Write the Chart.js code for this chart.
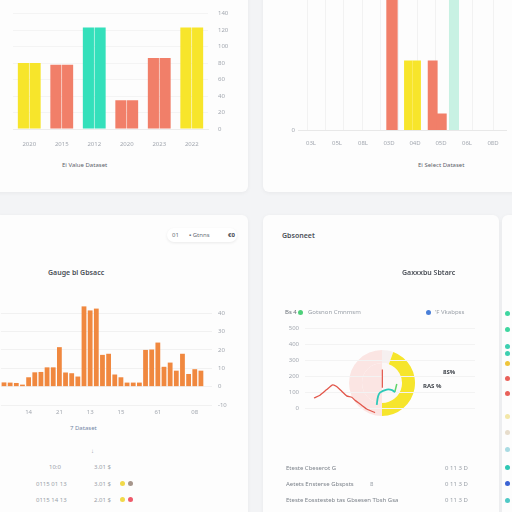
<!DOCTYPE html>
<html>
<head>
<meta charset="utf-8">
<script src="https://cdn.jsdelivr.net/npm/chart.js"></script>
<style>
  html, body { margin: 0; padding: 0; }
  body { width: 512px; height: 512px; background: #f3f4f6; position: relative; overflow: hidden; font-family: "Noto Sans", sans-serif; }
  .card { position: absolute; background: #fdfdfd; border-radius: 6px; box-shadow: 0 1px 4px rgba(0,0,0,0.05); }
  canvas { position: absolute; }
  .t { position: absolute; font-size: 6px; line-height: 8px; color: #9aa0a8; white-space: nowrap; }
  .b { color: #4a4f57; font-weight: 600; font-size: 7px; }
  .dot { position: absolute; width: 5px; height: 5px; border-radius: 50%; }
  .pill { position: absolute; left: 167px; top: 228px; width: 70px; height: 14px; border-radius: 7px; background: #fff; box-shadow: 0 1px 3px rgba(0,0,0,0.08); }
</style>
</head>
<body>
<div class="card" style="left:-6px;top:-10px;width:254px;height:202px"></div>
<div class="card" style="left:263px;top:-10px;width:260px;height:202px"></div>
<div class="card" style="left:-6px;top:215px;width:254px;height:310px"></div>
<div class="card" style="left:263px;top:215px;width:236px;height:310px"></div>
<div class="card" style="left:502px;top:215px;width:30px;height:310px"></div>

<canvas id="c1" width="250" height="152" style="left:0;top:0"></canvas>
<canvas id="c2" width="247" height="164" style="left:265px;top:-12px"></canvas>
<canvas id="c3" width="250" height="131" style="left:0;top:290px"></canvas>
<canvas id="c5" width="70" height="70" style="left:347px;top:348px"></canvas>
<canvas id="c4" width="210" height="106" style="left:270px;top:318px"></canvas>

<div class="t" style="left:62px;top:161px;color:#5d636b">Ei Value Dataset</div>
<div class="t" style="left:418px;top:161px;color:#5d636b">Ei Select Dataset</div>

<div class="pill"></div>
<div class="t" style="left:172px;top:231px;color:#6a7078">01</div>
<div class="t" style="left:189px;top:231px;color:#6a7078">▪ Gtnns</div>
<div class="t" style="left:228px;top:231px;color:#3f444b;font-weight:700">€0</div>
<div class="t b" style="left:48px;top:269px">Gauge bl Gbsacc</div>
<div class="t" style="left:70px;top:424px;color:#7387a6">7 Dataset</div>
<div class="t" style="left:91px;top:447px">↓</div>
<div class="t" style="left:49px;top:463px">10:0</div>
<div class="t" style="left:94px;top:463px">3.01 $</div>
<div class="t" style="left:36px;top:480px">0115 01 13</div>
<div class="t" style="left:94px;top:480px">3.01 $</div>
<div class="t" style="left:36px;top:496px">0115 14 13</div>
<div class="t" style="left:94px;top:496px">2.01 $</div>
<div class="dot" style="left:120px;top:481px;background:#f1d94a"></div>
<div class="dot" style="left:128px;top:481px;background:#a6968c"></div>
<div class="dot" style="left:120px;top:497px;background:#f1d94a"></div>
<div class="dot" style="left:128px;top:497px;background:#ee5a6a"></div>

<div class="t b" style="left:282px;top:232px">Gbsoneet</div>
<div class="t b" style="left:402px;top:269px">Gaxxxbu Sbtarc</div>
<div class="t" style="left:285px;top:308px;color:#6a7078">Bs 4</div>
<div class="dot" style="left:298px;top:310px;background:#4ed07a"></div>
<div class="t" style="left:308px;top:308px">Gotsnon Cmnmsm</div>
<div class="dot" style="left:426px;top:310px;background:#4a7fd8"></div>
<div class="t" style="left:435px;top:308px">'F Vkabpss</div>
<div class="t" style="left:443px;top:368px;color:#3f444b;font-weight:700">8S%</div>
<div class="t" style="left:423px;top:382px;color:#3f444b;font-weight:700">RAS %</div>
<div class="t" style="left:286px;top:464px;color:#7d838b">Eteste Cbeserot G</div>
<div class="t" style="left:445px;top:464px">0 11 3 D</div>
<div class="t" style="left:286px;top:480px;color:#7d838b">Aetets Ensterse Gbspsts</div>
<div class="t" style="left:370px;top:480px">8</div>
<div class="t" style="left:445px;top:480px">0 11 3 D</div>
<div class="t" style="left:286px;top:496px;color:#7d838b">Eteste Eosstesteb tas Gbsesen Tbsh Gsa</div>
<div class="t" style="left:445px;top:496px">0 11 3 D</div>

<div class="dot" style="left:505px;top:311px;background:#3fd6a0"></div>
<div class="dot" style="left:505px;top:327px;background:#3fd6a0"></div>
<div class="dot" style="left:505px;top:344px;background:#3dcfb0"></div>
<div class="dot" style="left:505px;top:351px;background:#3dcfb0"></div>
<div class="dot" style="left:505px;top:361px;background:#efc53a"></div>
<div class="dot" style="left:505px;top:376px;background:#e9615a"></div>
<div class="dot" style="left:505px;top:391px;background:#e9615a"></div>
<div class="dot" style="left:505px;top:414px;background:#f3e7a8"></div>
<div class="dot" style="left:505px;top:430px;background:#e7ddcc"></div>
<div class="dot" style="left:505px;top:447px;background:#a9dbe3"></div>
<div class="dot" style="left:505px;top:465px;background:#2fc7b4"></div>
<div class="dot" style="left:505px;top:481px;background:#3b63d4"></div>
<div class="dot" style="left:505px;top:498px;background:#4fc9c6"></div>

<script>
// top left: grouped pairs
const c1Labels = ['2020', '2015', '2012', '2020', '2023', '2022'];
const c1Values = [80, 78, 123, 35, 86, 123];
const c1Colors = ['#f7e52b', '#f17f69', '#34e0bb', '#f17f69', '#f17f69', '#f7e52b'];

// top right
const c2Labels = ['03L', '05L', '08L', '03D', '04D', '05D', '06L', '08D'];
const c2RedTall = [{ x: 3.115, y: 120 }];
const c2Yellow = [{ x: 3.742, y: 51 }, { x: 4.065, y: 51 }];
const c2Red = [{ x: 4.68, y: 51 }, { x: 5.03, y: 12 }];
const c2Mint = [{ x: 5.5, y: 120 }];

// bottom left
const c3Labels = ['10','11','12','13','14','15','16','17','18','21','20','21','22','23','13','25','26','27','28','15',
                  '30','31','01','02','03','61','05','06','07','08','09','08','11'];
const c3Values = [2.3, 2.2, 2.0, 1.1, 5.1, 7.8, 8.0, 10.5, 10.5, 21.5, 7.7, 7.3, 5.5, 43.7, 41.5, 42.5, 17.3,
                  17.9, 6.6, 5.1, 2.2, 2.2, 2.2, 20.0, 20.2, 24.0, 10.8, 13.1, 8.7, 17.9, 6.9, 9.5, 8.7];
const c3Shown = [4, 9, 14, 19, 25, 31];

// bottom right
const c4Red = [{x:5.3,y:63},{x:8.8,y:80},{x:12.8,y:115},{x:16.3,y:144},{x:18.6,y:134},{x:21.6,y:105},
               {x:24.5,y:76},{x:27.5,y:67},{x:29.4,y:48},{x:32.4,y:25},{x:36.3,y:-6},{x:41.2,y:-29}];
const c4Teal = [{x:42.2,y:19},{x:42.9,y:69},{x:44.1,y:96},{x:48.1,y:115},{x:51.2,y:112},{x:52.9,y:98}];
const c4Stem = [{x:45.5,y:241},{x:45.5,y:126}];
const c4Green = [{x:52.8,y:100},{x:54.0,y:150}];
const pieOuter = [20, 160, 180];
const pieInner = [180, 180];

Chart.defaults.font.family = '"Noto Sans", sans-serif';
Chart.defaults.font.size = 6;
Chart.defaults.color = '#a3a8b0';
Chart.defaults.animation = false;
Chart.defaults.responsive = false;
Chart.defaults.plugins.legend.display = false;
Chart.defaults.plugins.tooltip.enabled = false;

new Chart(document.getElementById('c1'), {
  type: 'bar',
  data: {
    labels: c1Labels,
    datasets: [
      { label: 'A', data: c1Values, backgroundColor: c1Colors, categoryPercentage: 0.72, barPercentage: 0.95 },
      { label: 'B', data: c1Values, backgroundColor: c1Colors, categoryPercentage: 0.72, barPercentage: 0.95 }
    ]
  },
  options: {
    layout: { padding: { left: 13, top: 12 } },
    scales: {
      x: { grid: { display: false, drawTicks: false }, border: { color: '#ececec' },
           ticks: { padding: 12, maxRotation: 0 },
           afterFit: s => { s.height = 23; } },
      y: { position: 'right', min: 0, max: 140, ticks: { stepSize: 20, padding: 10 },
           grid: { color: '#f4f4f4', drawTicks: false }, border: { display: false },
           afterFit: s => { s.width = 42; } }
    }
  }
});

new Chart(document.getElementById('c2'), {
  type: 'bar',
  data: {
    datasets: [
      { data: c2RedTall, backgroundColor: '#f17f69', barThickness: 10.7 },
      { data: c2Yellow, backgroundColor: '#f7e52b', barThickness: 7.8 },
      { data: c2Red, backgroundColor: '#f17f69', barThickness: 9.2 },
      { data: c2Mint, backgroundColor: '#c8f1e3', barThickness: 9.4 }
    ]
  },
  options: {
    layout: { padding: { right: 6 } },
    datasets: { bar: { grouped: false } },
    scales: {
      x: { type: 'linear', min: -0.5, max: 7.5, offset: false,
           afterBuildTicks: a => { a.ticks = c2Labels.map((_, i) => ({ value: i })); },
           ticks: { padding: 10, maxRotation: 0, autoSkip: false, callback: v => c2Labels[v] },
           grid: { display: false, drawTicks: false }, border: { color: '#e8e8e8' },
           afterFit: s => { s.height = 22; } },
      x2: { type: 'linear', position: 'bottom', min: 0, max: 11.35, offset: false,
            ticks: { display: false, stepSize: 1 }, grid: { color: '#f2f2f2', drawTicks: false },
            border: { display: false }, afterFit: s => { s.height = 0; } },
      y: { min: 0, max: 100, ticks: { padding: 3, callback: v => (v === 0 ? '0' : '') },
           grid: { display: false, drawTicks: false }, border: { display: false },
           afterFit: s => { s.width = 33; } }
    }
  }
});

new Chart(document.getElementById('c3'), {
  type: 'bar',
  data: {
    labels: c3Labels,
    datasets: [{ data: c3Values, backgroundColor: '#f0883f', categoryPercentage: 0.78, barPercentage: 1 }]
  },
  options: {
    layout: { padding: { top: 14 } },
    scales: {
      x: { grid: { display: false, drawTicks: false }, border: { display: false },
           ticks: { autoSkip: false, maxRotation: 0, padding: 4,
                    callback: (v, i) => (c3Shown.includes(i) ? c3Labels[i] : '') },
           afterFit: s => { s.height = 16; } },
      y: { position: 'right', min: -10, max: 45, ticks: { stepSize: 10, padding: 6, includeBounds: false },
           grid: { color: '#f1f1f1', tickLength: 8, tickColor: '#f1f1f1' }, border: { display: false },
           afterFit: s => { s.width = 46; } }
    }
  }
});

new Chart(document.getElementById('c5'), {
  type: 'doughnut',
  data: {
    datasets: [
      { data: pieOuter, backgroundColor: ['#f6f0f0', '#f6e52c', '#fbe5e3'], borderWidth: 0, weight: 13 },
      { data: pieInner, backgroundColor: ['#fbf8f8', '#fbe5e3'], borderWidth: 0, weight: 20 }
    ]
  },
  options: { cutout: 0, radius: 33 }
});

new Chart(document.getElementById('c4'), {
  type: 'line',
  data: {
    datasets: [
      { data: c4Red, borderColor: '#e2574b', borderWidth: 1.3, pointRadius: 0, tension: 0.2 },
      { data: c4Teal, borderColor: '#2cc9b8', borderWidth: 1.8, pointRadius: 0, tension: 0.4 },
      { data: c4Stem, borderColor: '#e2574b', borderWidth: 1.2, pointRadius: 0 },
      { data: c4Green, borderColor: '#5fd46a', borderWidth: 1.5, pointRadius: 0 }
    ]
  },
  options: {
    layout: { padding: { top: 10, right: 5, bottom: 2 } },
    scales: {
      x: { type: 'linear', min: 0, max: 100, display: false },
      y: { min: -40, max: 500, ticks: { stepSize: 100, padding: 6, includeBounds: false },
           grid: { color: '#f3f3f3', drawTicks: false }, border: { display: false },
           afterFit: s => { s.width = 35; } }
    }
  }
});
</script>
</body>
</html>
